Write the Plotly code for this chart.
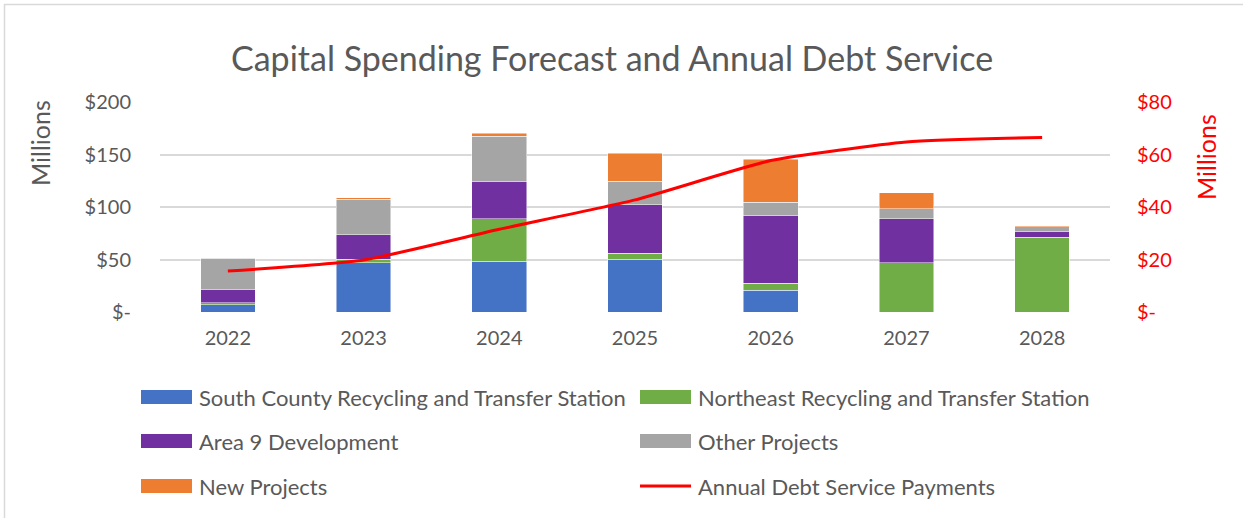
import plotly.graph_objects as go

years = ["2022", "2023", "2024", "2025", "2026", "2027", "2028"]
south_county = [7.0, 46.9, 48.2, 50.4, 20.7, 0.0, 0.0]
northeast = [1.6, 3.2, 40.4, 5.7, 6.7, 46.9, 71.1]
area9 = [13.1, 23.5, 35.4, 45.9, 64.4, 42.0, 5.4]
other = [29.3, 33.8, 43.3, 22.7, 12.8, 9.6, 4.8]
new_projects = [0.6, 1.3, 2.9, 26.7, 40.7, 15.3, 0.9]
debt_service = [15.6, 19.8, 31.5, 42.7, 57.7, 64.8, 66.5]

left_ticks = [0, 50, 100, 150, 200]
left_ticktext = ["$-", "$50", "$100", "$150", "$200"]
right_ticks = [0, 20, 40, 60, 80]
right_ticktext = ["$-", "$20", "$40", "$60", "$80"]

series = [
    ("South County Recycling and Transfer Station", south_county, "#4472C4"),
    ("Northeast Recycling and Transfer Station", northeast, "#70AD47"),
    ("Area 9 Development", area9, "#7030A0"),
    ("Other Projects", other, "#A5A5A5"),
    ("New Projects", new_projects, "#ED7D31"),
]
line_name = "Annual Debt Service Payments"

W, H = 1243, 518
L, R, T, B = 160, 1110, 102, 312
FONT = "Lato"
GRAY = "#595959"


def px(x):
    return (x - L) / (R - L)


def py(y):
    return (B - y) / (B - T)


fig = go.Figure()
for name, vals, color in series:
    fig.add_trace(go.Bar(x=years, y=vals, name=name, marker_color=color,
                         marker_line=dict(color="rgba(255,255,255,0.6)", width=0.8)))
fig.add_trace(go.Scatter(x=years, y=debt_service, name=line_name, yaxis="y2",
                         mode="lines", line=dict(color="#FF0000", width=3, shape="spline", smoothing=0.5)))

shapes = []
annotations = []

# frame
shapes.append(dict(type="rect", xref="paper", yref="paper",
                   x0=px(4.5), x1=px(W + 20), y0=py(H + 20), y1=py(4.5),
                   line=dict(color="#D9D9D9", width=1.5), fillcolor="rgba(0,0,0,0)", layer="below"))

# custom legend
legend_items = [
    (series[0][0], series[0][2], 141, 397, "bar"),
    (series[1][0], series[1][2], 640, 397, "bar"),
    (series[2][0], series[2][2], 141, 441, "bar"),
    (series[3][0], series[3][2], 640, 441, "bar"),
    (series[4][0], series[4][2], 141, 486, "bar"),
    (line_name, "#FF0000", 640, 486, "line"),
]
for name, color, x0, yc, kind in legend_items:
    if kind == "bar":
        shapes.append(dict(type="rect", xref="paper", yref="paper",
                           x0=px(x0), x1=px(x0 + 51), y0=py(yc + 7), y1=py(yc - 7),
                           fillcolor=color, line=dict(width=0)))
    else:
        shapes.append(dict(type="line", xref="paper", yref="paper",
                           x0=px(x0), x1=px(x0 + 51), y0=py(yc), y1=py(yc),
                           line=dict(color=color, width=3)))
    annotations.append(dict(text=name, xref="paper", yref="paper", x=px(x0 + 56), y=py(yc),
                            xanchor="left", yanchor="middle", showarrow=False,
                            font=dict(family=FONT, size=22, color=GRAY)))

# title
annotations.append(dict(text="Capital Spending Forecast and Annual Debt Service", xref="paper", yref="paper",
                        x=px(612), y=py(57), xanchor="center", yanchor="middle", showarrow=False,
                        font=dict(family=FONT, size=34, color=GRAY)))
# axis titles
annotations.append(dict(text="Millions", xref="paper", yref="paper", x=px(40), y=py(143),
                        xanchor="center", yanchor="middle", showarrow=False, textangle=-90,
                        font=dict(family=FONT, size=25, color=GRAY)))
annotations.append(dict(text="Millions", xref="paper", yref="paper", x=px(1206), y=py(157),
                        xanchor="center", yanchor="middle", showarrow=False, textangle=-90,
                        font=dict(family=FONT, size=25, color="#FF0000")))

fig.update_layout(
    width=W, height=H,
    margin=dict(l=L, r=W - R, t=T, b=H - B, pad=0),
    paper_bgcolor="white", plot_bgcolor="white",
    barmode="stack", bargap=0.597,
    showlegend=False,
    shapes=shapes, annotations=annotations,
    xaxis=dict(type="category", showgrid=False, showline=False, zeroline=False, ticks="",
               tickfont=dict(family=FONT, size=20, color=GRAY), ticklabelstandoff=12),
    yaxis=dict(range=[0, 200], tickvals=left_ticks, ticktext=left_ticktext,
               showgrid=True, gridcolor="#D9D9D9", gridwidth=1.5, zeroline=False, showline=False,
               tickfont=dict(family=FONT, size=20, color=GRAY), ticklabelstandoff=28),
    yaxis2=dict(range=[0, 80], tickvals=right_ticks, ticktext=right_ticktext, overlaying="y", side="right",
                showgrid=False, zeroline=False, showline=False,
                tickfont=dict(family=FONT, size=20, color="#FF0000"), ticklabelstandoff=26),
)

fig.write_html("out.html", config={"displayModeBar": False},
               post_script="document.body.style.margin='0px';")
